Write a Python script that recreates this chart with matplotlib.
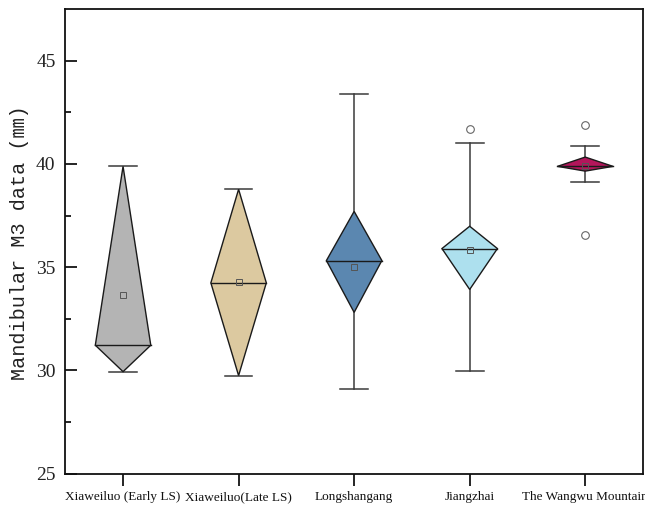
import matplotlib
matplotlib.use("Agg")
import matplotlib.pyplot as plt

# Summary statistics of mandibular M3 length per site
sites = ["Xiaweiluo (Early LS)", "Xiaweiluo(Late LS)", "Longshangang",
         "Jiangzhai", "The Wangwu Mountain"]
whisker_low = [29.94, 29.75, 29.09, 29.99, 39.12]
q1 = [29.94, 29.75, 32.81, 33.92, 39.65]
median = [31.22, 34.24, 35.32, 35.90, 39.88]
q3 = [39.88, 38.77, 37.70, 36.98, 40.33]
whisker_high = [39.88, 38.77, 43.39, 41.00, 40.89]
mean = [33.66, 34.26, 35.03, 35.82, 39.90]
outliers = [[], [], [], [41.70], [41.89, 36.55]]
colors = ["#b4b4b4", "#dcc9a0", "#5b87b0", "#ade0ee", "#b3165b"]

y_ticks = [25, 30, 35, 40, 45]

fig = plt.figure(figsize=(6.45, 5.05), dpi=100)
ax = fig.add_axes([0.1012, 0.062, 0.8957, 0.9202])

positions = list(range(1, len(sites) + 1))
stats = []
for i in range(len(sites)):
    stats.append(dict(whislo=whisker_low[i], q1=q1[i], med=median[i], q3=q3[i],
                      whishi=whisker_high[i], mean=mean[i], fliers=outliers[i]))

ax.bxp(stats, positions=positions, widths=0.48, showbox=False, showcaps=True,
       showfliers=True, showmeans=True, capwidths=0.24,
       whiskerprops=dict(color="#3a3a3a", linewidth=1.1),
       capprops=dict(color="#3a3a3a", linewidth=1.1),
       medianprops=dict(linewidth=0),
       flierprops=dict(marker="o", markerfacecolor="none", markeredgecolor="#666666",
                       markersize=5.5, markeredgewidth=0.8),
       meanprops=dict(marker="s", markerfacecolor="none", markeredgecolor="#555555",
                      markersize=4.5, markeredgewidth=0.7, zorder=5))

# Diamond boxes: Q1 at the bottom, Q3 at the top, widest at the median
half = 0.24
for p, lo, md, hi, c in zip(positions, q1, median, q3, colors):
    ax.fill([p, p + half, p, p - half], [lo, md, hi, md], facecolor=c,
            edgecolor="#1a1a1a", linewidth=1.0, zorder=3)
    ax.plot([p - half, p + half], [md, md], color="#1a1a1a", linewidth=1.0, zorder=4)

ax.set_xlim(0.5, 5.5)
ax.set_ylim(25, 47.5)
ax.set_yticks(y_ticks)
ax.set_yticks([27.5, 32.5, 37.5, 42.5], minor=True)
ax.set_xticks(positions)
ax.set_xticklabels(sites, fontfamily="Liberation Serif", fontsize=9.5, color="#111111")
for lab in ax.get_yticklabels():
    lab.set_fontfamily("Liberation Serif")
    lab.set_fontsize(14)
    lab.set_color("#222222")

ax.tick_params(axis="y", which="major", direction="in", length=8.5, width=1.2, pad=7)
ax.tick_params(axis="y", which="minor", direction="in", length=4.5, width=1.2)
ax.tick_params(axis="x", which="major", direction="out", length=8.5, width=1.2, pad=4)
ax.tick_params(axis="x", which="minor", bottom=False)
for s in ax.spines.values():
    s.set_linewidth(1.3)
    s.set_color("#111111")

fig.text(20 / 645, 0.519, "Mandibular M3 data (㎜)", rotation=90, ha="center", va="center",
         fontsize=14.5, family=["Liberation Mono", "Noto Sans CJK SC"], color="#222222")

fig.savefig("out.png", dpi=100)
